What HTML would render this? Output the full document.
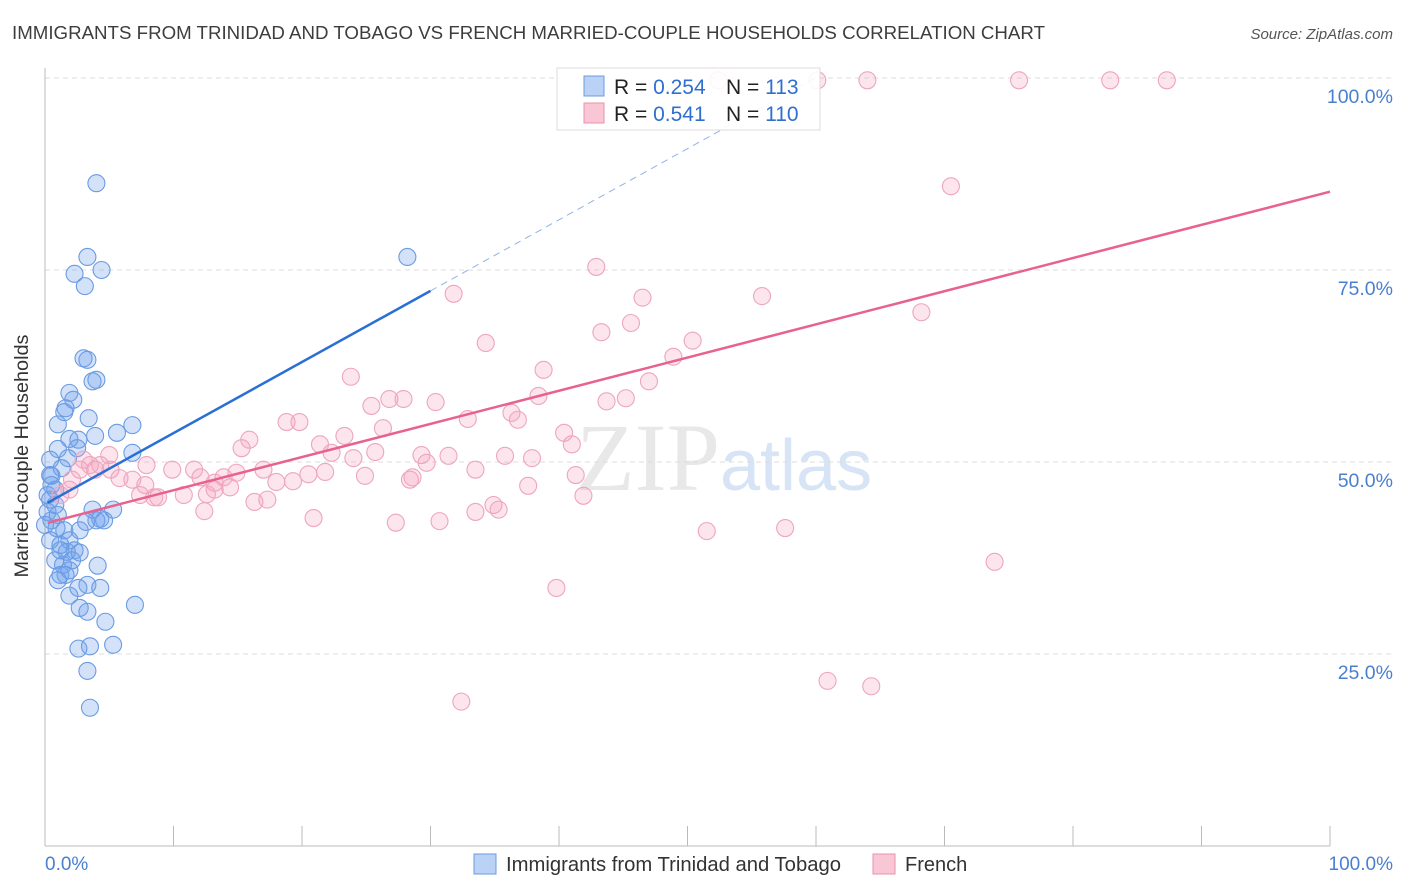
<!DOCTYPE html>
<html><head><meta charset="utf-8"><style>
body{margin:0;background:#fff;font-family:"Liberation Sans",sans-serif}
svg{display:block}
</style></head><body>
<svg width="1406" height="892" xmlns="http://www.w3.org/2000/svg">
<text x="12" y="39" font-size="18" fill="#3d3d3d" textLength="1033" lengthAdjust="spacingAndGlyphs">IMMIGRANTS FROM TRINIDAD AND TOBAGO VS FRENCH MARRIED-COUPLE HOUSEHOLDS CORRELATION CHART</text>
<text x="1393" y="39" font-size="15" fill="#555" font-style="italic" text-anchor="end">Source: ZipAtlas.com</text>
<text x="720" y="490" font-size="96" fill="#e8e8e8" text-anchor="end" font-family="Liberation Serif,serif">ZIP</text>
<text x="720" y="490" font-size="72" fill="#d6e4f5">atlas</text>
<g id="grid"></g>
<line x1="45" y1="68" x2="45" y2="846" stroke="#bbb"/>
<line x1="45" y1="846" x2="1330" y2="846" stroke="#bbb"/>
<g id="ticks"></g>
<text x="28" y="456" font-size="19" fill="#333" text-anchor="middle" textLength="243" lengthAdjust="spacingAndGlyphs" transform="rotate(-90 28 456)">Married-couple Households</text>
<text x="45" y="870" font-size="19" fill="#4a7fd0">0.0%</text>
<text x="1393" y="870" font-size="19" fill="#4a7fd0" text-anchor="end">100.0%</text>
<g id="pts"></g>
<g id="lines"></g>
<g>
<rect x="557" y="68" width="263" height="62" fill="#fff" fill-opacity="0.9" stroke="#ddd"/>
<rect x="584" y="76" width="20" height="20" fill="#b9d2f5" stroke="#6a9be0"/>
<rect x="584" y="103" width="20" height="20" fill="#f9c6d6" stroke="#e892ae"/>
<text x="614" y="94" font-size="21" fill="#222">R = <tspan fill="#2f6fd0">0.254</tspan></text>
<text x="726" y="94" font-size="21" fill="#222">N = <tspan fill="#2f6fd0"> 113</tspan></text>
<text x="614" y="121" font-size="21" fill="#222">R =  <tspan fill="#2f6fd0">0.541</tspan></text>
<text x="726" y="121" font-size="21" fill="#222">N = <tspan fill="#2f6fd0">110</tspan></text>
</g>
<rect x="474" y="854" width="22" height="20" fill="#b9d2f5" stroke="#6a9be0"/>
<text x="506" y="871" font-size="20" fill="#333" textLength="335" lengthAdjust="spacingAndGlyphs">Immigrants from Trinidad and Tobago</text>
<rect x="873" y="854" width="22" height="20" fill="#f9c6d6" stroke="#e892ae"/>
<text x="905" y="871" font-size="20" fill="#333">French</text>
</svg>
<script>
const yTicks=[25,50,75,100];
const yTickLabels=["25.0%","50.0%","75.0%","100.0%"];
const xTicks=[0,10,20,30,40,50,60,70,80,90,100];
const blueX=[4.0,3.3,2.3,4.4,3.1,28.2,3.0,3.3,4.0,3.7,1.9,2.2,1.5,1.6,1.0,3.4,6.8,3.9,1.9,2.6,5.6,1.0,2.5,6.8,1.8,1.3,0.5,0.8,0.4,0.2,0.5,0.9,3.7,4.3,5.3,4.0,3.2,4.6,1.5,2.7,1.9,1.2,1.7,2.3,0.8,1.4,2.1,2.7,4.1,1.2,1.9,3.3,4.3,2.6,1.9,2.7,3.3,4.7,7.0,2.6,3.5,5.3,3.3,3.5,0.4,0.4,0.5,0.2,0.8,1.0,0.0,0.4,1.2,1.6,1.0];
const blueY=[86.3,76.7,74.5,75.0,72.9,76.7,63.5,63.3,60.7,60.5,59.0,58.1,56.5,57.0,54.9,55.7,54.8,53.4,53.0,52.9,53.8,51.7,51.8,51.2,50.5,49.2,48.2,46.4,45.1,43.5,42.4,41.4,43.8,42.6,43.8,42.4,42.2,42.4,41.1,41.1,39.8,39.2,38.3,38.5,37.2,36.6,37.2,38.2,36.5,35.3,35.9,34.0,33.6,33.6,32.6,31.0,30.5,29.2,31.4,25.7,26.0,26.2,22.8,18.0,50.3,48.3,47.0,45.7,44.4,43.1,41.8,39.8,38.5,35.3,34.6];
const pinkX=[52.4,60.1,64.0,75.8,82.9,87.3,70.5,42.9,31.8,46.5,55.8,68.2,43.3,45.6,34.3,50.4,48.9,38.8,23.8,47.0,26.8,27.9,30.4,25.4,38.4,43.7,45.2,32.9,36.3,36.8,18.8,19.8,26.3,23.3,15.9,40.4,41.0,21.4,25.7,22.3,24.0,29.3,31.4,33.5,35.8,37.9,29.7,15.3,11.6,9.9,7.9,5.8,6.8,4.3,5.0,3.0,2.1,1.2,7.8,8.8,8.5,10.8,12.6,13.2,13.9,14.9,17.0,18.0,19.3,20.5,21.8,24.9,28.6,28.4,41.9,41.3,37.6,33.5,34.9,35.3,14.4,13.2,12.4,16.3,17.3,20.9,27.3,30.7,51.5,57.6,73.9,39.8,60.9,64.3,32.4,3.5,2.7,3.9,1.9,12.1,5.1,7.4];
const pinkY=[99.7,99.7,99.7,99.7,99.7,99.7,85.9,75.4,71.9,71.4,71.6,69.5,66.9,68.1,65.5,65.8,63.7,62.0,61.1,60.5,58.2,58.2,57.8,57.3,58.6,57.9,58.3,55.6,56.4,55.5,55.2,55.2,54.4,53.4,52.9,53.8,52.3,52.3,51.3,51.2,50.5,50.9,50.8,49.0,50.8,50.5,49.9,51.8,49.0,49.0,49.6,47.9,47.7,49.6,50.9,50.3,47.7,45.7,47.0,45.4,45.4,45.7,45.8,46.4,48.0,48.6,49.0,47.4,47.5,48.4,48.7,48.2,48.0,47.7,45.6,48.3,46.9,43.5,44.4,43.8,46.7,47.3,43.6,44.8,45.1,42.7,42.1,42.3,41.0,41.4,37.0,33.6,21.5,20.8,18.8,49.6,49.0,49.0,46.4,48.0,49.0,45.7];
const blueFit=[44.5,0.926];
const pinkFit=[42.0,0.432];
const NS="http://www.w3.org/2000/svg";
const X=v=>45+v*12.85, Y=v=>846-v*7.68;
function mk(t,a,p){const e=document.createElementNS(NS,t);for(const k in a)e.setAttribute(k,a[k]);p.appendChild(e);return e;}
const grid=document.getElementById('grid');
yTicks.forEach((t,i)=>{
 const l=mk('line',{x1:45,x2:1393,y1:Y(t),y2:Y(t),stroke:'#ddd','stroke-dasharray':'5,4'},grid);
 
 
 const tx=mk('text',{x:1393,y:Y(t)+25,'font-size':19.5,fill:'#4a7fd0','text-anchor':'end'},grid);
 tx.textContent=yTickLabels[i];
 
 
});
const tk=document.getElementById('ticks');
xTicks.forEach(t=>{
 const l=mk('line',{x1:X(t),x2:X(t),y1:826,y2:846,stroke:'#bbb'},tk);
 
 
});
const pts=document.getElementById('pts');
blueX.forEach((x,i)=>{
 const c=mk('circle',{cx:X(x),cy:Y(blueY[i]),r:8.5,fill:'rgba(110,160,235,0.3)',stroke:'#6a9be3','stroke-width':1.1},pts);
 
 
});
pinkX.forEach((x,i)=>{
 const c=mk('circle',{cx:X(x),cy:Y(pinkY[i]),r:8.5,fill:'rgba(245,160,190,0.28)',stroke:'#eea5bd','stroke-width':1.1},pts);
 
 
});
const ln=document.getElementById('lines');
const f=(fit,x)=>fit[0]+fit[1]*x;
const b1=mk('line',{x1:X(0.2),y1:Y(f(blueFit,0.2)),x2:X(30),y2:Y(f(blueFit,30)),stroke:'#2a6fd6','stroke-width':2.5},ln);


const b2=mk('line',{x1:X(30),y1:Y(f(blueFit,30)),x2:X(60),y2:Y(f(blueFit,60)),stroke:'#8fb3e8','stroke-width':1,'stroke-dasharray':'7,5'},ln);


const p1=mk('line',{x1:X(0.2),y1:Y(f(pinkFit,0.2)),x2:X(100),y2:Y(f(pinkFit,100)),stroke:'#e8628f','stroke-width':2.5},ln);


</script>
</body></html>
